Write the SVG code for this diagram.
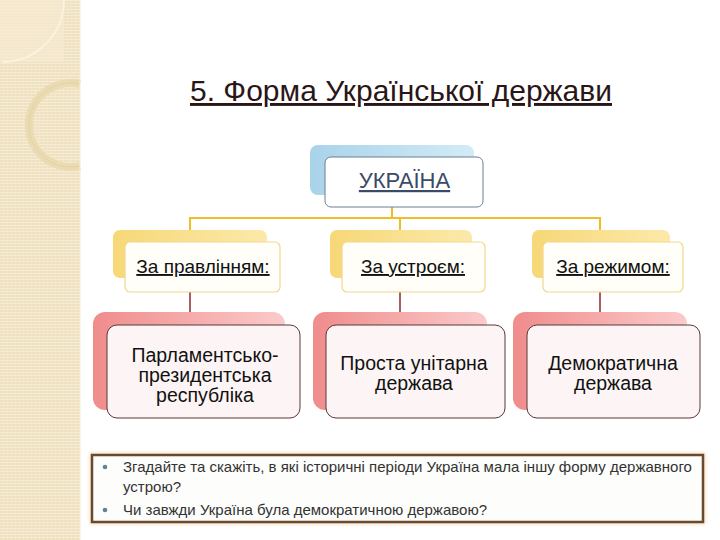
<svg xmlns="http://www.w3.org/2000/svg" width="720" height="540" viewBox="0 0 720 540">
<defs>
  <pattern id="stripes" width="4" height="3" patternUnits="userSpaceOnUse">
    <rect width="4" height="3" fill="#efe1bf"/>
    <rect width="4" height="1" fill="#f7edd6"/>
    <rect x="3" width="1" height="3" fill="#f3e8cc"/>
  </pattern>
  <linearGradient id="gBlue" x1="0" y1="0" x2="1" y2="0">
    <stop offset="0" stop-color="#a9d3ea"/>
    <stop offset="1" stop-color="#d3ebf6"/>
  </linearGradient>
  <linearGradient id="gYellow" x1="0" y1="0" x2="1" y2="0">
    <stop offset="0" stop-color="#f7d877"/>
    <stop offset="1" stop-color="#fce9aa"/>
  </linearGradient>
  <linearGradient id="gPink" x1="0" y1="0" x2="1" y2="0">
    <stop offset="0" stop-color="#f08c8c"/>
    <stop offset="1" stop-color="#fbcaca"/>
  </linearGradient>
  <filter id="glow" x="-5%" y="-20%" width="110%" height="140%">
    <feGaussianBlur stdDeviation="1.5"/>
  </filter>
</defs>
<style>
  .t { font-family: "Liberation Sans", Arial, sans-serif; }
  .title { font-size: 29px; fill: #2a1616; text-decoration: underline; }
  .root { font-size: 22px; fill: #3b4a68; text-decoration: underline; }
  .lvl2 { font-size: 19px; fill: #111; text-decoration: underline; }
  .lvl3 { font-size: 19.5px; fill: #111; }
  .q { font-size: 15px; fill: #333; }
  .front1 { fill: #ffffff; stroke: #6b7f96; stroke-width: 1; }
  .front2 { fill: #fffef8; stroke: #f1d890; stroke-width: 1.2; }
  .front3 { fill: #fdf5f5; stroke: #5a3838; stroke-width: 1; }
  .c1 { stroke: #eebd2a; stroke-width: 2; fill: none; }
  .c2 { stroke: #8a2d2d; stroke-width: 1.5; fill: none; }
</style>
<rect width="720" height="540" fill="#ffffff"/>
<g id="stripe">
  <rect x="0" y="0" width="80" height="540" fill="url(#stripes)"/>
  <rect x="0" y="0" width="64" height="62" fill="#f6ead2" opacity="0.7"/>
  <path d="M64,0 A62,62 0 0 1 2,62" fill="none" stroke="#fbf3e0" stroke-width="2"/>
  <path d="M80,84 A42,42 0 1 0 80,166" fill="none" stroke="#eadbb2" stroke-width="8"/>
  <path d="M80,84 A42,42 0 1 0 80,166" fill="none" stroke="#e2d0a2" stroke-width="0.8"/>
  <line x1="80" y1="0" x2="80" y2="540" stroke="#f3ead4" stroke-width="1"/>
</g>
<g id="title">
  <text class="t title" x="190" y="101" textLength="422" lengthAdjust="spacingAndGlyphs">5. Форма Української держави</text>
</g>
<g id="connectors">
  <path class="c1" d="M392,207 V218 M190,218 H600 M190,217 V230 M400,218 V230 M600,217 V230"/>
  <path class="c2" d="M190,292 V313 M400,292 V313 M600,292 V313"/>
</g>
<g id="ukraina">
  <rect x="310" y="145" width="164" height="50" rx="8" fill="url(#gBlue)"/>
  <rect class="front1" x="325" y="157" width="158" height="50" rx="6"/>
  <text class="t root" x="404.5" y="188" text-anchor="middle">УКРАЇНА</text>
</g>
<g id="za-pravlinniam">
  <rect x="113" y="230" width="154" height="48" rx="7" fill="url(#gYellow)"/>
  <rect class="front2" x="125" y="242" width="155" height="50" rx="5"/>
  <text class="t lvl2" x="203" y="273" text-anchor="middle">За правлінням:</text>
</g>
<g id="za-ustroiem">
  <rect x="330" y="230" width="142" height="48" rx="7" fill="url(#gYellow)"/>
  <rect class="front2" x="342" y="242" width="143" height="50" rx="5"/>
  <text class="t lvl2" x="413" y="273" text-anchor="middle">За устроєм:</text>
</g>
<g id="za-rezhymom">
  <rect x="532" y="230" width="138" height="48" rx="7" fill="url(#gYellow)"/>
  <rect class="front2" x="543" y="242" width="140" height="50" rx="5"/>
  <text class="t lvl2" x="613" y="273" text-anchor="middle">За режимом:</text>
</g>
<g id="parl-prez">
  <rect x="93" y="312" width="192" height="98" rx="12" fill="url(#gPink)"/>
  <rect class="front3" x="107" y="325" width="193" height="93" rx="10"/>
  <text class="t lvl3" x="205" y="362" text-anchor="middle">Парламентсько-</text>
  <text class="t lvl3" x="205" y="382" text-anchor="middle">президентська</text>
  <text class="t lvl3" x="205" y="402" text-anchor="middle">республіка</text>
</g>
<g id="unitarna">
  <rect x="313" y="312" width="174" height="98" rx="12" fill="url(#gPink)"/>
  <rect class="front3" x="326" y="325" width="179" height="93" rx="10"/>
  <text class="t lvl3" x="414" y="370" text-anchor="middle">Проста унітарна</text>
  <text class="t lvl3" x="414" y="390" text-anchor="middle">держава</text>
</g>
<g id="demokratychna">
  <rect x="513" y="312" width="174" height="98" rx="12" fill="url(#gPink)"/>
  <rect class="front3" x="527" y="325" width="173" height="93" rx="10"/>
  <text class="t lvl3" x="613" y="370" text-anchor="middle">Демократична</text>
  <text class="t lvl3" x="613" y="390" text-anchor="middle">держава</text>
</g>
<g id="questions">
  <rect x="92" y="455" width="611" height="67" fill="none" stroke="#f9e2c2" stroke-width="5" filter="url(#glow)"/>
  <rect x="92" y="455" width="611" height="67" fill="#fdfdfb" stroke="#6a4a2e" stroke-width="2.5"/>
  <circle cx="105" cy="467" r="2.3" fill="#5b8795"/>
  <circle cx="105" cy="510" r="2.3" fill="#5b8795"/>
  <text class="t q" x="123" y="472">Згадайте та скажіть, в які історичні періоди Україна мала іншу форму державного</text>
  <text class="t q" x="123" y="492">устрою?</text>
  <text class="t q" x="123" y="515">Чи завжди Україна була демократичною державою?</text>
</g>
</svg>
